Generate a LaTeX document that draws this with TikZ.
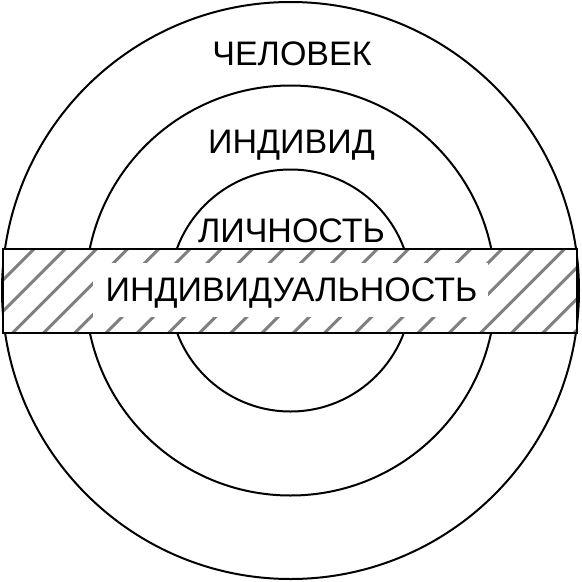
\documentclass[tikz,border=0pt]{standalone}
\usepackage{fontspec}
\setmainfont{Liberation Sans}
\begin{document}
\begin{tikzpicture}[x=1pt,y=-1pt,
  ring/.style={circle, draw=black, line width=2pt, inner sep=0pt, minimum size=#1},
  lbl/.style={anchor=base, inner sep=0pt, font=\fontsize{34}{40}\selectfont},
  hatchline/.style={draw=black!50, line width=3pt}]
\useasboundingbox (0,0) rectangle (582,582);
\node[ring=577pt] (outer) at (290.5,290.5) {};
\node[ring=410pt] (middle) at (290.5,290.5) {};
\node[ring=242pt] (inner) at (290.5,290.5) {};
% band
\node[rectangle, fill=white, draw=none, inner sep=0pt, minimum width=574pt, minimum height=84pt] (band) at (290,291) {};
\begin{scope}
  \clip (band.south west) rectangle (band.north east);
  \foreach \k in {-4,...,21} {
    \pgfmathsetmacro{\c}{283+31.2*\k}
    \draw[hatchline] (\c-240,240) -- (\c-340,340);
  }
\end{scope}
\node[rectangle, fill=white, inner sep=0pt, minimum width=395pt, minimum height=54pt] (textbox) at (290.5,290) {};
\draw[line width=2pt] (band.south west) rectangle (band.north east);
\node[lbl] (chel) at (292,65) {ЧЕЛОВЕК};
\node[lbl] (indv) at (291.5,153) {ИНДИВИД};
\node[lbl] (lich) at (291.5,242) {ЛИЧНОСТЬ};
\node[lbl] (indvl) at (291.5,301) {ИНДИВИДУАЛЬНОСТЬ};
\end{tikzpicture}
\end{document}
